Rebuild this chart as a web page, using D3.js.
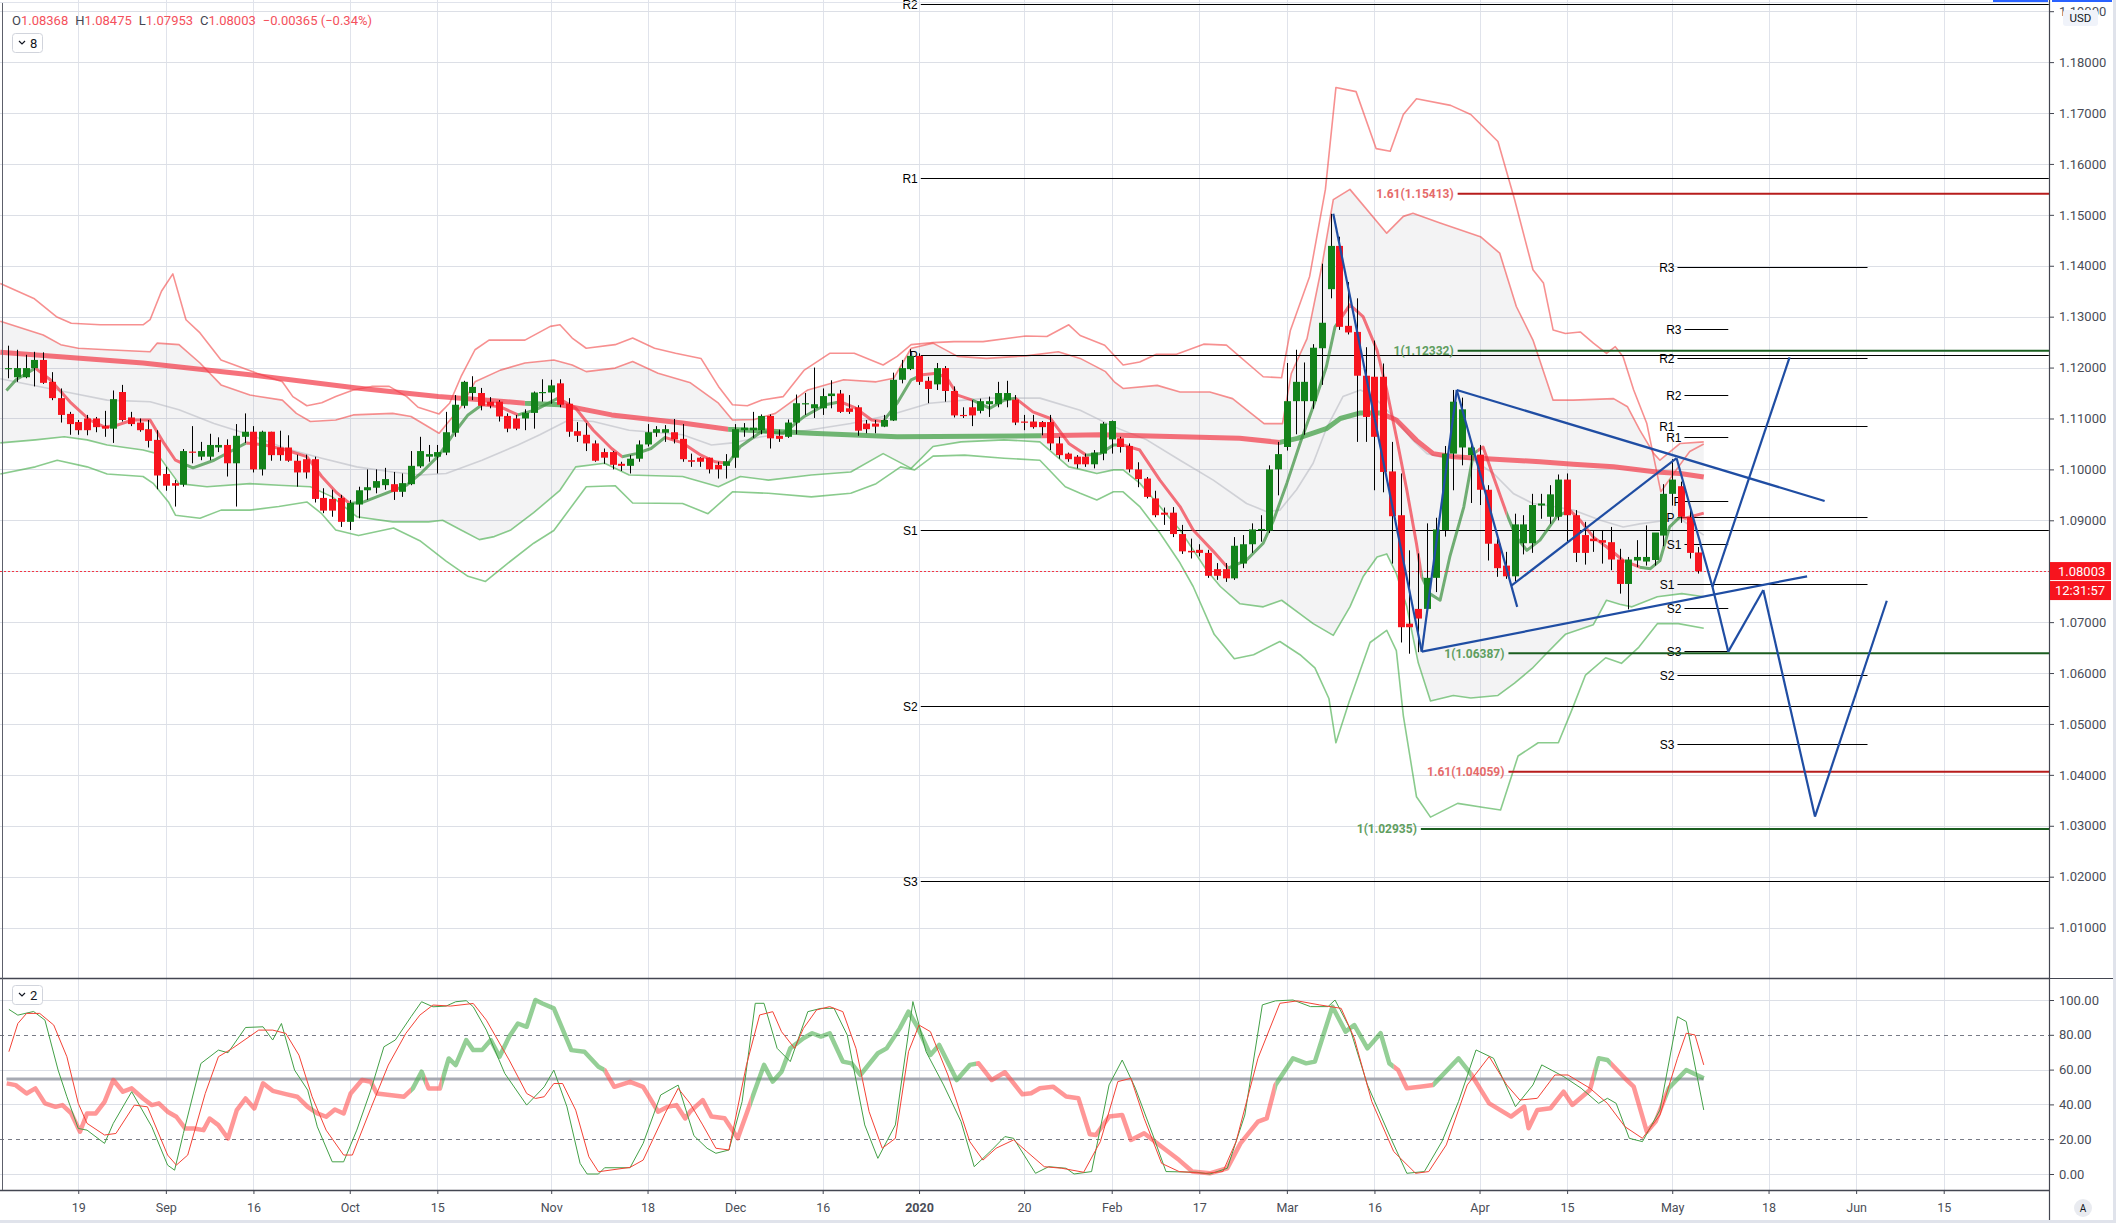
<!DOCTYPE html>
<html><head><meta charset="utf-8">
<script src="https://cdn.jsdelivr.net/npm/d3@7"></script>
<style>
html,body{margin:0;padding:0;background:#fff;}
svg{display:block;font-family:Roboto,"Liberation Sans",Arial,sans-serif;}
</style></head><body>
<svg id="chart" width="2116" height="1223"></svg>
<script>
// ---------------- DATA ----------------
const startDate = "2019-08-07";
const skipDates = ["2019-12-25","2020-01-01"];
const tickDates = ["2019-08-19","2019-09-02","2019-09-16","2019-10-01","2019-10-15","2019-11-01","2019-11-18","2019-12-02","2019-12-16","2020-01-02","2020-01-20","2020-02-03","2020-02-17","2020-03-02","2020-03-16","2020-04-01","2020-04-15","2020-05-01","2020-05-18","2020-06-01","2020-06-15"];
const tickLabels = ["19","Sep","16","Oct","15","Nov","18","Dec","16","2020","20","Feb","17","Mar","16","Apr","15","May","18","Jun","15"];
const priceTicks = [1.01,1.02,1.03,1.04,1.05,1.06,1.07,1.08,1.09,1.10,1.11,1.12,1.13,1.14,1.15,1.16,1.17,1.18,1.19];
const oscTicks = [0,20,40,60,80,100];

const open = [1.1198,1.1181,1.1181,1.1199,1.1215,1.1172,1.1140,1.1109,1.1093,1.1100,1.1100,1.1085,1.1080,1.1152,1.1102,1.1092,1.1079,1.1058,1.0991,1.0973,1.0970,1.1035,1.1025,1.1025,1.1043,1.1048,1.1012,1.1064,1.1074,1.1000,1.1074,1.1043,1.1043,1.1017,1.1020,1.1020,1.0944,1.0942,1.0944,1.0897,1.0931,1.0959,1.0964,1.0969,1.0971,1.0956,1.0971,1.1006,1.1025,1.1025,1.1033,1.1072,1.1125,1.1150,1.1150,1.1133,1.1133,1.1105,1.1100,1.1100,1.1111,1.1151,1.1151,1.1169,1.1129,1.1075,1.1068,1.1051,1.1034,1.1034,1.1011,1.1007,1.1021,1.1049,1.1072,1.1072,1.1073,1.1060,1.1018,1.1023,1.1023,1.1009,1.1007,1.1023,1.1077,1.1077,1.1077,1.1105,1.1066,1.1064,1.1092,1.1128,1.1120,1.1120,1.1144,1.1149,1.1120,1.1122,1.1090,1.1090,1.1084,1.1096,1.1176,1.1197,1.1223,1.1174,1.1167,1.1199,1.1154,1.1107,1.1122,1.1115,1.1128,1.1128,1.1136,1.1137,1.1094,1.1094,1.1093,1.1093,1.1051,1.1031,1.1025,1.1025,1.1010,1.1031,1.1059,1.1061,1.1046,1.1000,1.0982,1.0943,1.0915,1.0915,1.0873,1.0840,1.0842,1.0836,1.0804,1.0804,1.0786,1.0815,1.0853,1.0882,1.0880,1.1000,1.1044,1.1134,1.1134,1.1134,1.1238,1.1354,1.1439,1.1282,1.1270,1.1184,1.1182,1.1182,1.0996,1.0910,1.0697,1.0726,1.0726,1.0787,1.0881,1.1031,1.1043,1.1028,1.1029,1.0960,1.0854,1.0811,1.0790,1.0855,1.0855,1.0929,1.0907,1.0907,1.0980,1.0910,1.0871,1.0864,1.0861,1.0857,1.0823,1.0775,1.0821,1.0819,1.0822,1.0870,1.0952,1.0967,1.0906,1.08368];
const high = [1.1243,1.1235,1.1225,1.1231,1.1230,1.1191,1.1159,1.1113,1.1097,1.1107,1.1103,1.1115,1.1155,1.1166,1.1113,1.1100,1.1097,1.1077,1.1005,1.0979,1.1040,1.1085,1.1054,1.1070,1.1063,1.1059,1.1089,1.1110,1.1085,1.1076,1.1074,1.1076,1.1067,1.1029,1.1029,1.1025,1.0963,1.0960,1.0950,1.0940,1.0966,1.1000,1.1000,1.1003,1.0995,1.0992,1.1036,1.1064,1.1048,1.1048,1.1113,1.1146,1.1174,1.1183,1.1160,1.1142,1.1136,1.1110,1.1107,1.1118,1.1153,1.1177,1.1176,1.1177,1.1140,1.1093,1.1091,1.1057,1.1041,1.1036,1.1015,1.1028,1.1057,1.1089,1.1085,1.1087,1.1099,1.1089,1.1031,1.1024,1.1023,1.1015,1.1030,1.1089,1.1091,1.1113,1.1108,1.1108,1.1078,1.1098,1.1147,1.1150,1.1200,1.1159,1.1175,1.1156,1.1146,1.1126,1.1097,1.1097,1.1107,1.1190,1.1215,1.1236,1.1228,1.1182,1.1209,1.1203,1.1163,1.1122,1.1136,1.1139,1.1143,1.1172,1.1174,1.1146,1.1107,1.1107,1.1095,1.1107,1.1064,1.1033,1.1028,1.1031,1.1038,1.1093,1.1096,1.1064,1.1051,1.1014,1.0985,1.0958,1.0925,1.0926,1.0891,1.0864,1.0853,1.0842,1.0816,1.0816,1.0867,1.0871,1.0894,1.0910,1.1008,1.1054,1.1209,1.1235,1.1210,1.1246,1.1404,1.1502,1.1457,1.1368,1.1336,1.1240,1.1253,1.1208,1.1054,1.0992,1.0841,1.0835,1.0894,1.0905,1.1046,1.1156,1.1141,1.1054,1.1048,1.0969,1.0864,1.0838,1.0913,1.0910,1.0952,1.0952,1.0969,1.0990,1.0992,1.0920,1.0897,1.0880,1.0880,1.0887,1.0844,1.0828,1.0861,1.0890,1.0874,1.0971,1.1020,1.0976,1.0927,1.08475];
const low = [1.1179,1.1172,1.1179,1.1163,1.1168,1.1136,1.1092,1.1068,1.1068,1.1067,1.1073,1.1064,1.1052,1.1094,1.1085,1.1074,1.1043,1.0961,1.0958,1.0927,1.0966,1.1012,1.1018,1.1018,1.1034,1.0986,1.0927,1.1052,1.0994,1.0988,1.1017,1.1017,1.1015,1.0966,1.0982,1.0935,1.0914,1.0907,1.0887,1.0881,1.0904,1.0940,1.0953,1.0960,1.0940,1.0946,1.0969,1.1003,1.1015,1.0992,1.1028,1.1064,1.1120,1.1136,1.1116,1.1120,1.1094,1.1073,1.1077,1.1077,1.1080,1.1133,1.1129,1.1122,1.1064,1.1054,1.1036,1.1015,1.1011,1.1000,1.0997,1.0992,1.1015,1.1045,1.1064,1.1054,1.1051,1.1015,1.1005,1.1005,1.0992,1.0982,1.0982,1.1003,1.1064,1.1062,1.1069,1.1041,1.1054,1.1062,1.1069,1.1107,1.1101,1.1107,1.1120,1.1111,1.1109,1.1066,1.1071,1.1071,1.1083,1.1095,1.1169,1.1195,1.1166,1.1130,1.1156,1.1133,1.1102,1.1101,1.1085,1.1110,1.1103,1.1122,1.1122,1.1087,1.1077,1.1080,1.1067,1.1038,1.1021,1.1015,1.1002,1.1005,1.1002,1.1018,1.1031,1.1033,1.0994,1.0965,1.0943,1.0906,1.0891,1.0867,1.0834,1.0825,1.0829,1.0787,1.0783,1.0779,1.0783,1.0806,1.0836,1.0858,1.0875,1.0949,1.1037,1.1069,1.1068,1.1119,1.1166,1.1336,1.1274,1.1265,1.1054,1.1054,1.0959,1.0955,1.0815,1.0660,1.0638,1.0641,1.0720,1.0759,1.0868,1.0959,1.1008,1.0934,1.0930,1.0821,1.0789,1.0785,1.0780,1.0833,1.0836,1.0903,1.0893,1.0900,1.0857,1.0818,1.0813,1.0838,1.0815,1.0802,1.0756,1.0725,1.0808,1.0811,1.0811,1.0849,1.0929,1.0895,1.0825,1.07953];
const close = [1.1199,1.1199,1.1199,1.1215,1.1170,1.1140,1.1107,1.1089,1.1077,1.1077,1.1083,1.1080,1.1138,1.1097,1.1089,1.1077,1.1056,1.0988,1.0968,1.0968,1.1036,1.1034,1.1036,1.1048,1.1048,1.1012,1.1066,1.1074,1.1000,1.1074,1.1028,1.1028,1.1017,1.0994,1.0994,1.0942,1.0919,1.0919,1.0897,1.0934,1.0959,1.0965,1.0977,1.0981,1.0956,1.0973,1.1007,1.1036,1.1030,1.1034,1.1073,1.1127,1.1172,1.1162,1.1125,1.1125,1.1104,1.1080,1.1080,1.1111,1.1151,1.1152,1.1165,1.1127,1.1074,1.1066,1.1051,1.1017,1.1023,1.1009,1.1007,1.1021,1.1049,1.1073,1.1079,1.1079,1.1059,1.1020,1.1015,1.1015,1.1000,1.1000,1.1016,1.1079,1.1082,1.1082,1.1105,1.1061,1.1060,1.1092,1.1130,1.1130,1.1128,1.1144,1.1149,1.1113,1.1113,1.1076,1.1079,1.1084,1.1097,1.1176,1.1199,1.1223,1.1172,1.1158,1.1199,1.1154,1.1106,1.1106,1.1106,1.1134,1.1134,1.1150,1.1150,1.1092,1.1092,1.1083,1.1083,1.1051,1.1028,1.1020,1.1010,1.1010,1.1033,1.1090,1.1095,1.1044,1.1000,1.0981,1.0946,1.0910,1.0911,1.0873,1.0839,1.0837,1.0836,1.0791,1.0791,1.0786,1.0850,1.0853,1.0882,1.0883,1.1000,1.1030,1.1134,1.1172,1.1172,1.1239,1.1288,1.1439,1.1280,1.1269,1.1184,1.1103,1.1064,1.0995,1.0908,1.0690,1.0690,1.0707,1.0787,1.0882,1.1031,1.1133,1.1118,1.1043,1.0960,1.0854,1.0806,1.0790,1.0892,1.0892,1.0930,1.0933,1.0951,1.0980,1.0910,1.0836,1.0836,1.0859,1.0856,1.0823,1.0775,1.0823,1.0828,1.0828,1.0876,1.0952,1.0980,1.0907,1.0836,1.08003];

// indicator vertices: [bar, value]
const bandUpperOuter = [[-0.9,1.1365],[3,1.1335],[5.5,1.1300],[7.2,1.1287],[10.5,1.1284],[15.4,1.1284],[16.2,1.1294],[17.5,1.1350],[18.8,1.1384],[20.3,1.1294],[21.9,1.1268],[24.3,1.1215],[28.4,1.1189],[31.3,1.1172],[32.5,1.1143],[34.1,1.1125],[35.8,1.1131],[37.4,1.1143],[39.4,1.1156],[41.5,1.1163],[43.5,1.1163],[45.5,1.1143],[46.8,1.1122],[49.2,1.1109],[50.4,1.1130],[51.7,1.1182],[53.3,1.1235],[54.9,1.1254],[59,1.1254],[61.9,1.1281],[63,1.1284],[64.4,1.1258],[66,1.1238],[69.3,1.1245],[71.3,1.1258],[73.8,1.1238],[76.2,1.1228],[79.1,1.1218],[81.1,1.1163],[82.7,1.1127],[84.4,1.1125],[86,1.1136],[88.5,1.1143],[90.9,1.1195],[93.8,1.1228],[96.6,1.1228],[99.9,1.1205],[101.5,1.1222],[103.1,1.1245],[105.6,1.1249],[108,1.1251],[111.3,1.1251],[116.2,1.1262],[118.6,1.1261],[121.1,1.1284],[122.4,1.1263],[125.2,1.1244],[127.3,1.1205],[129.2,1.1211],[131.1,1.1226],[133.4,1.1226],[136.5,1.1246],[139.1,1.1244],[143.3,1.1182],[145.4,1.1180],[146.4,1.1273],[148.6,1.1379],[150.4,1.1550],[151.6,1.1750],[153.9,1.1742],[156.2,1.1630],[157.8,1.1625],[159.3,1.1697],[160.8,1.1728],[164.7,1.1715],[167,1.1697],[170.1,1.1644],[172,1.1530],[174.1,1.1392],[175.3,1.1366],[176.4,1.1274],[177.8,1.1267],[179.5,1.1270],[181,1.1248],[182.5,1.1228],[183.5,1.1241],[184.4,1.1221],[185.6,1.1156],[187.1,1.1090],[188.7,1.0956],[190.5,1.1000],[192,1.1035],[193.6,1.1050]];
const bandUpperInner = [[-0.9,1.1291],[4,1.1264],[6,1.1245],[8,1.1238],[11.3,1.1235],[16.2,1.1231],[17,1.1248],[19.5,1.1245],[21.9,1.1209],[24.3,1.1166],[27.6,1.1146],[31.3,1.1136],[32.9,1.1110],[34.5,1.1094],[37.4,1.1097],[39.4,1.1107],[43.9,1.1110],[46,1.1104],[49.2,1.1071],[51.7,1.1123],[53.3,1.1172],[56.2,1.1195],[59,1.1209],[62.3,1.1215],[64.4,1.1205],[66,1.1192],[69.3,1.1199],[71.3,1.1212],[74.2,1.1189],[77.9,1.1170],[81.1,1.1130],[82.7,1.1097],[85.2,1.1098],[87.6,1.1110],[91.3,1.1156],[95.4,1.1176],[99.1,1.1172],[101.1,1.1179],[103.1,1.1238],[105.6,1.1248],[108.4,1.1222],[111.7,1.1218],[116.2,1.1223],[119.9,1.1231],[122.4,1.1218],[125.3,1.1192],[126.3,1.1172],[127.3,1.1159],[131.2,1.1165],[133.8,1.1152],[137.2,1.1152],[139.8,1.1139],[143.4,1.1090],[145.5,1.1090],[146.5,1.1188],[148.3,1.1257],[150,1.1400],[151.3,1.1530],[153.2,1.1550],[157.4,1.1464],[159.3,1.1497],[160.4,1.1503],[163.5,1.1484],[168.1,1.1457],[170.3,1.1425],[172.2,1.1320],[174.1,1.1254],[176.4,1.1136],[178.7,1.1136],[183.3,1.1139],[184.9,1.1123],[186.3,1.1077],[187.9,1.1031],[188.6,1.1018],[190.9,1.1051],[193.6,1.1054]];
const bandMiddle = [[-0.9,1.1178],[7.2,1.1150],[11.3,1.1136],[16.2,1.1133],[19.5,1.1117],[23.5,1.1090],[27.6,1.1068],[31.7,1.1041],[35.8,1.1022],[39.8,1.1005],[43.9,1.0995],[47.1,1.0989],[50,1.0992],[54.1,1.1018],[58.2,1.1048],[60.7,1.1068],[64,1.1097],[66.8,1.1094],[70.9,1.1077],[77,1.1068],[80.3,1.1048],[82.7,1.1052],[86,1.1064],[91.3,1.1077],[96.2,1.1090],[100.7,1.1107],[105.2,1.1130],[111.7,1.1140],[117.8,1.1140],[122.4,1.1116],[126.2,1.1084],[130,1.1058],[133.8,1.1018],[137.6,1.0979],[141.4,1.0933],[143.7,1.0917],[145.2,1.0920],[147.1,1.0960],[149,1.1012],[150.5,1.1080],[152.4,1.1143],[154.4,1.1156],[155.9,1.1143],[158.2,1.1103],[160.4,1.1057],[162,1.1031],[163.5,1.1025],[165.4,1.1025],[167.3,1.1018],[169.6,1.0992],[171.9,1.0952],[174.1,1.0933],[176.8,1.0926],[178.7,1.0920],[181.8,1.0900],[184.4,1.0887],[186.3,1.0893],[189.4,1.0900],[190.9,1.0903],[193.6,1.0871]];
const bandLowerInner = [[-0.9,1.1052],[3.1,1.1058],[6.4,1.1064],[9,1.1058],[11.3,1.1048],[15.4,1.1038],[17,1.1031],[19.5,1.0972],[22.7,1.0966],[27.6,1.0972],[30.9,1.0969],[34.5,1.0966],[37,1.0946],[39.8,1.0907],[43.9,1.0897],[48,1.0897],[49.6,1.0900],[51.7,1.0881],[53.8,1.0862],[55.5,1.0868],[57.4,1.0881],[60,1.0915],[63,1.0959],[64.8,1.1005],[68.1,1.1012],[70.9,1.0989],[77,1.0986],[81.1,1.0966],[83.6,1.0986],[86.8,1.0979],[91.7,1.0989],[96.2,1.0995],[99.9,1.1031],[103.1,1.1002],[105.6,1.1045],[108.8,1.1054],[113.7,1.1058],[117.8,1.1054],[121.1,1.1005],[122.4,1.1000],[124.3,1.0992],[126.2,1.0999],[127.3,1.0999],[129.2,1.0973],[131.5,1.0927],[133.8,1.0881],[135.3,1.0842],[136.8,1.0803],[138.4,1.0770],[140.65,1.0736],[143.3,1.0730],[145.4,1.0743],[147.5,1.0716],[149,1.0697],[151.3,1.0674],[153.2,1.0730],[154.7,1.0789],[156.3,1.0828],[157.4,1.0834],[158.5,1.0795],[159.7,1.0730],[161,1.0620],[162.4,1.0545],[165,1.0556],[167,1.0551],[170.1,1.0556],[172,1.0580],[174,1.0609],[175.5,1.0636],[177.8,1.0676],[181,1.0695],[182.5,1.0743],[184,1.0735],[185.4,1.0730],[188.3,1.0750],[191.1,1.0756],[193.6,1.0750]];
const bandLowerOuter = [[-0.9,1.0991],[3.1,1.1005],[5.6,1.1018],[9,1.1005],[11.3,1.0991],[15.4,1.0986],[16.6,1.0972],[18.3,1.0936],[19.1,1.0910],[21.9,1.0904],[24.3,1.0920],[27.6,1.0920],[30.9,1.0927],[34.1,1.0936],[35.8,1.0913],[37.4,1.0881],[40,1.0870],[44,1.0885],[47,1.0860],[50,1.0820],[52.5,1.0790],[54.5,1.0780],[57,1.0815],[60,1.0855],[62.3,1.0880],[66,1.0966],[69.3,1.0968],[71.3,1.0934],[77,1.0933],[79.9,1.0913],[82.7,1.0956],[86.8,1.0953],[91.7,1.0946],[96.2,1.0953],[99.1,1.0972],[101.9,1.1005],[103.5,1.0999],[105.6,1.1026],[109.2,1.1028],[113.7,1.1022],[117.8,1.1018],[120.7,1.0966],[122.4,1.0953],[124.3,1.0940],[126.2,1.0956],[127.3,1.0956],[129.2,1.0927],[131.5,1.0875],[133.8,1.0816],[135.3,1.0770],[137.7,1.0676],[140,1.0628],[142.2,1.0636],[145.2,1.0662],[147.5,1.0636],[149.2,1.0610],[150.8,1.0550],[151.6,1.0463],[153.1,1.0543],[155.5,1.0660],[157.4,1.0684],[158.5,1.0644],[159.3,1.0516],[160.8,1.0357],[162.4,1.0317],[165.5,1.0344],[168.5,1.0336],[170.4,1.0331],[172.4,1.0437],[174.7,1.0463],[177,1.0463],[178.6,1.0530],[180.1,1.0596],[182.4,1.0630],[184.2,1.0619],[186.2,1.0651],[188.3,1.0697],[190.7,1.0697],[193.6,1.0688]];
const slowMA = [[-0.9,1.1230],[15.4,1.1209],[27.6,1.1186],[39.8,1.1160],[49.1,1.1143],[56.2,1.1134],[59,1.1130],[63,1.1127],[68.9,1.1107],[77,1.1091],[82.2,1.1079],[91.7,1.1071],[101.5,1.1064],[118,1.1066],[124.7,1.1068],[133.8,1.1064],[140.6,1.1061],[145.2,1.1053],[147.2,1.1061],[150.5,1.1080],[152.1,1.1100],[154.4,1.1111],[156.6,1.1111],[158.5,1.1097],[160.8,1.1057],[162.7,1.1031],[165,1.1025],[168.8,1.1021],[174.9,1.1015],[178.7,1.1010],[183.3,1.1005],[188.2,1.0995],[190.9,1.0992],[193.6,1.0985]];
const slowMARuns = [[-1,59,"dn"],[59,63,"up"],[63,82.2,"dn"],[82.2,118,"up"],[118,145.2,"dn"],[145.2,156.6,"up"],[156.6,194,"dn"]];
const fastMA = [[-0.2,1.1155],[0.9,1.1176],[3.1,1.1199],[4.8,1.1176],[7.2,1.1130],[9.3,1.1097],[10.9,1.1084],[12.1,1.1085],[14.2,1.1097],[16.2,1.1097],[17.8,1.1051],[19.1,1.1018],[19.9,1.1012],[21.1,1.1003],[23.5,1.1018],[26,1.1041],[27.2,1.1052],[29.3,1.1048],[31.7,1.1038],[34.1,1.1025],[35.8,1.0986],[37.4,1.0956],[39,1.0933],[40.6,1.0936],[43.1,1.0953],[45.5,1.0969],[47.1,1.0992],[49.2,1.1028],[50.9,1.1071],[52.5,1.1107],[54.1,1.1127],[56.2,1.1123],[58.2,1.1107],[60.2,1.1117],[62.8,1.1140],[64.8,1.1120],[66.8,1.1077],[68.9,1.1041],[70.1,1.1025],[71.7,1.1031],[73.4,1.1041],[75,1.1063],[77,1.1052],[79.1,1.1028],[80.7,1.1015],[82.2,1.1012],[83.6,1.1045],[86,1.1074],[88.5,1.1071],[90.9,1.1104],[93.3,1.1127],[95,1.1133],[96.6,1.1122],[98.6,1.1097],[99.9,1.1094],[101.5,1.1130],[103.1,1.1176],[104.4,1.1186],[106,1.1189],[107.2,1.1179],[108.4,1.1146],[110.1,1.1136],[112.1,1.1120],[113.7,1.1136],[115,1.1140],[117,1.1113],[119,1.1100],[121.1,1.1051],[123.1,1.1028],[124.7,1.1031],[126.2,1.1048],[127.3,1.1048],[129.2,1.1038],[131.5,1.0979],[133.8,1.0927],[135.3,1.0881],[137.6,1.0839],[139.3,1.0806],[141.4,1.0822],[143.3,1.0855],[144.5,1.0901],[146,1.0973],[147.5,1.1051],[149,1.1123],[150.5,1.1201],[151.5,1.1280],[153.2,1.1323],[154.7,1.1300],[156.3,1.1234],[157.4,1.1156],[158.5,1.1064],[159.7,1.0959],[160.8,1.0854],[161.4,1.0789],[162.3,1.0756],[163.5,1.0743],[164.6,1.0828],[166.2,1.0926],[167.3,1.1031],[168.4,1.1044],[169.6,1.0985],[171.1,1.0913],[172.2,1.0867],[173.4,1.0841],[174.9,1.0861],[176.8,1.0907],[178.3,1.0920],[179.5,1.0900],[181,1.0867],[182.5,1.0848],[184.4,1.0821],[186.3,1.0808],[187.5,1.0805],[188.6,1.0821],[189.7,1.0887],[190.9,1.0907],[191.5,1.0904],[193.6,1.0914]];
const fastMARuns = [[-1,3.1,"up"],[3.1,19.9,"dn"],[19.9,27.2,"up"],[27.2,39,"dn"],[39,54.1,"up"],[54.1,58.2,"dn"],[58.2,62.8,"up"],[62.8,70.1,"dn"],[70.1,75,"up"],[75,82.2,"dn"],[82.2,95,"up"],[95,99.9,"dn"],[99.9,104.4,"up"],[104.4,110.1,"dn"],[110.1,115,"up"],[115,123.1,"dn"],[123.1,127.3,"up"],[127.3,139.3,"dn"],[139.3,152,"up"],[152,161.4,"dn"],[161.4,167.8,"up"],[167.8,171.1,"dn"],[171.1,178.3,"up"],[178.3,186.3,"dn"],[186.3,191,"up"],[191,194,"dn"]];

// pivots
const yearPivotLabels = ["R2","R1","P","S1","S2","S3"];
const yearPivotValues = [1.1914,1.1572,1.1224,1.0880,1.0535,1.0191];
const yearPivotSpan = [104.2, 233];
const monthPivotLabels = ["R3","R2","R1","P","S1","S2","S3"];
const monthPivotValues = [1.1397,1.1218,1.1085,1.0906,1.0774,1.0596,1.0461];
const monthPivotSpan = [190.6, 212.3];
const weekPivotLabels = ["R3","R2","R1","P","S1","S2","S3"];
const weekPivotValues = [1.1275,1.1147,1.1063,1.0938,1.0853,1.0727,1.0643];
const weekPivotSpan = [191.4, 196.4];

// fib projections
const fibLabels = ["1.61(1.15413)","1(1.12332)","1(1.06387)","1.61(1.04059)","1(1.02935)"];
const fibValues = [1.15413,1.12332,1.06387,1.04059,1.02935];
const fibStart = [165.5,165.5,171.3,171.3,161.3];
const fibKind = ["ext","base","base","ext","base"];

// hand drawn pattern (bar, price)
const patternLines = [
 [[151.3,1.1502],[161.4,1.0642]],
 [[161.4,1.0642],[165.4,1.1156]],
 [[165.4,1.1156],[172.3,1.0730]],
 [[165.4,1.1156],[207.4,1.0938]],
 [[161.4,1.0642],[205.4,1.0790]],
 [[171.6,1.0771],[190.5,1.1022]],
 [[190.5,1.1022],[194.6,1.0769]],
 [[194.6,1.0769],[203.4,1.1220]],
 [[194.6,1.0769],[196.4,1.0642]],
 [[196.4,1.0642],[200.4,1.0763]],
 [[200.4,1.0763],[206.3,1.0318]],
 [[206.3,1.0318],[214.5,1.0742]]
];

// oscillator
const oscMidLevel = 54.6;
const oscThick = [[-0.17,52.1],[0.85,51.1],[2.1,46.3],[3.1,49.2],[4.2,40.6],[5.4,38.6],[6.2,39.6],[7.2,34.8],[8.2,24.3],[9,34.8],[10,34.8],[11,41.5],[12,54],[13.1,47.3],[14.1,49.2],[15.4,43.4],[16.4,39.6],[17.2,40.6],[18.2,35.8],[19.2,32.9],[20.2,26.2],[21.2,26.2],[22.3,25.2],[23,31.9],[24,28.1],[25.1,20.4],[26.1,36.7],[27.1,43.4],[28.1,37.7],[29.1,52.1],[30.2,47.8],[31.7,45.9],[33,44.4],[34.2,38.6],[35.3,34.8],[36.3,32.9],[37.3,37.1],[38.3,34.8],[39.1,46.3],[40.4,54],[41.4,53],[42.1,46.3],[45.2,44.4],[46.2,49.2],[47.2,58.8],[48,49.2],[49.3,49.2],[50.3,66.4],[51.1,62.6],[52.3,77],[53.1,71.2],[54.1,71.2],[55.1,77],[56.1,67.4],[57.2,78.9],[58.2,86.5],[59.2,84.6],[60.2,100],[61,98],[62.3,95.2],[64.3,71.2],[65.8,70.3],[67.4,61.6],[68.1,59.7],[69.2,50.1],[71,53],[72.5,50.1],[74.2,35.8],[75.3,38.6],[76.3,39.6],[77.3,31.9],[77.85,35.8],[79.3,42.5],[80.3,33],[81.8,32],[83.3,20.5],[84.8,41.6],[86.3,62.7],[87.3,53.1],[88.3,58.8],[89.3,72.2],[90.8,78],[91.8,80.9],[92.8,79],[93.8,80.9],[95.3,64.6],[96.3,63.6],[97.3,56.9],[99.3,69.4],[100.3,72.2],[101.8,83.7],[102.8,93.3],[103.8,84.7],[105.3,68.4],[106.3,74.2],[108.3,54],[109.8,62.7],[110.8,63.6],[112.3,54],[113.8,58.5],[115.8,45.8],[116.8,46.4],[117.8,49.3],[119.3,50.2],[120.8,44.5],[122.2,43.5],[123.5,22.8],[124.2,22.4],[125.7,33],[127.2,33.9],[128.2,19.6],[129.7,23.4],[131.7,15.7],[133.7,8],[135.2,1.4],[137.2,0.4],[139.2,3.3],[140.7,17.6],[142.7,30.1],[143.7,32],[144.7,51.2],[146.7,66.5],[148.2,63.6],[149.2,64.6],[151.2,96.2],[152.7,81.8],[153.7,85.6],[155.2,72.2],[156.7,80.9],[157.7,63.6],[158.7,59.8],[159.7,49.3],[161.2,50.2],[162.7,51.2],[165.6,66.5],[167.1,56.9],[169.1,40.6],[171.6,33],[173.1,38.7],[173.6,26.3],[174.6,36.8],[176.1,37.8],[177.6,47.3],[178.6,39.7],[180.6,48.3],[181.6,66.5],[182.6,65.5],[184.6,55],[185.6,50.2],[187.1,24.3],[188.1,30.1],[189.6,49.3],[191.6,59.8],[193.6,55]];
const oscThickRuns = [[-1,46,"dn"],[46,47.6,"up"],[47.6,49.5,"dn"],[49.5,68.1,"up"],[68.1,84.8,"dn"],[84.8,110.5,"up"],[110.5,144.7,"dn"],[144.7,158.2,"up"],[158.2,162.7,"dn"],[162.7,167.1,"up"],[167.1,181.1,"dn"],[181.1,183,"up"],[183,189.3,"dn"],[189.3,194,"up"]];
const oscFast = [[0.08,94.6],[1.1,91.3],[2.9,93.4],[4.2,88.4],[5.7,59.7],[6.7,44.4],[8,26.2],[9,25.2],[11,17.6],[12,29.1],[14.1,47.3],[16.4,27.1],[18.2,5.1],[19,2.2],[20,23.3],[22,63.5],[24,71.2],[25.1,69.7],[27.1,84.2],[29.1,84.6],[30.2,77],[31.2,86.5],[32.7,59.7],[34.2,48.2],[35.3,27.1],[37,7],[38.3,7],[39.8,25.2],[41.4,48.2],[42.9,73.1],[44.2,77],[46,90.4],[47.2,99],[48.5,96.1],[50,96.5],[51.1,99],[52.3,99.6],[53.1,96.1],[54.6,82.7],[56.7,57.8],[59.2,39.6],[61.2,50.1],[62.3,59.7],[63.8,38.6],[65.3,6.1],[66.1,0],[67.4,0],[68.1,3.6],[71,3.6],[72.5,17.6],[74.5,45.4],[76.5,51.1],[78.3,22],[79.8,14.8],[80.8,11.9],[82.3,13.8],[83.8,41.6],[85.3,98.1],[86.3,98.1],[87.8,72.2],[89.3,64.6],[91.3,93.3],[92.8,95.2],[94.3,95.2],[95.8,79.9],[97.8,28.2],[99.3,9],[101.3,28.2],[103.3,99.1],[104.8,70.3],[106.8,51.2],[108.8,30.1],[110.3,4.2],[112.3,13.8],[113.8,21.5],[114.8,20.5],[117.3,0.4],[118.8,4.2],[120.8,3.3],[121.7,0],[123.7,1.4],[125.7,51.2],[127.2,65.5],[128.7,49.3],[130.7,22.4],[132.2,1.4],[135.7,1],[137.2,0],[139.2,3.3],[141.2,33.9],[143.2,97.2],[144.7,99.5],[146.7,100],[148.7,96.2],[150.7,96.2],[151.5,100],[153.2,83.7],[155.2,51.2],[157.7,22.4],[159.7,0.4],[161.7,1.4],[163.7,18.6],[165.6,41.6],[167.6,71.3],[169.6,66.5],[172.1,38.7],[174.1,51.2],[175.1,62.7],[177.6,56],[179.6,49.3],[181.6,40.6],[182.6,43.5],[183.6,40.6],[185.1,20.5],[186.6,18.6],[188.6,36.8],[190.6,90.4],[191.6,87.6],[193.6,36.8]];
const oscSlow = [[0.08,70.3],[1.1,86.5],[2.1,92.3],[3.6,92.3],[5.2,85.6],[6.7,67.4],[8,40.6],[9,29.1],[11,22.4],[12.3,23.3],[14.4,39.6],[15.9,38.6],[18.2,10.9],[19.2,5.1],[20.5,10.9],[22.5,46.3],[24,67.4],[25.6,72.2],[28.6,82.7],[30.2,82.7],[31.7,80.8],[33.2,68.3],[34.7,44.4],[36.3,25.2],[38.3,10.9],[39.3,10.9],[41.4,37.7],[43.4,62.6],[45.4,80.8],[47,91.3],[48.5,97.1],[50.5,96.5],[53.1,98],[54.6,88.4],[57.2,65.5],[59.2,46.3],[60.2,43.4],[61.2,44.4],[62.3,52],[63.3,52],[64.8,36.7],[66.3,9.9],[67.4,1.3],[71,3.8],[72.5,8],[75,34.8],[76.5,49.2],[77.85,40.6],[79.3,28.2],[80.8,14.8],[82.3,13.8],[84.3,62.7],[85.8,91.4],[87.3,93.3],[88.3,81.8],[89.8,72.2],[90.8,83.7],[92.3,94.3],[93.8,96.2],[95.3,93.3],[96.8,72.2],[98.3,35.8],[99.8,14.8],[101.3,20.5],[102.8,70.3],[104,85.6],[105.3,81.8],[107.3,56.9],[109.8,18.6],[111.3,8],[112.8,14.8],[114.8,19.6],[116.3,12.9],[118.3,4.2],[120.3,3.3],[122.8,1],[124.7,18.6],[126.7,53.1],[128.2,55],[129.7,32],[131.7,6.1],[133.7,1.4],[136.7,0.4],[138.7,1.4],[140.2,18.6],[142.7,66.5],[145.2,98.1],[147.2,99.5],[149.7,97.2],[152.2,95.2],[153.7,78],[155.7,41.6],[158.2,12.9],[160.7,0.4],[162.2,1.4],[164.2,16.7],[166.6,51.2],[169.1,67.5],[171.1,51.2],[172.6,42.5],[174.6,43.5],[176.6,56.9],[178.1,56.9],[180.6,49.3],[182.6,40.6],[184.6,27.2],[186.6,20.5],[188.6,33.9],[190.6,66.5],[191.6,80.9],[192.6,79.9],[193.6,62.7]];

const ohlcLabels = ["O","H","L","C"];
const ohlcValues = ["1.08368","1.08475","1.07953","1.08003"];
const changeText = "\u22120.00365 (\u22120.34%)";
const lastPrice = 1.08003;
const countdown = "12:31:57";

// ---------------- LAYOUT ----------------
const W = 2116, H = 1223;
const plotRight = 2049, mainBottom = 978, oscBottom = 1190;
const barStep = 8.758;
const x = d3.scaleLinear().domain([0, 233]).range([8.2, 8.2 + 233 * barStep]);
const y = d3.scaleLinear().domain([1.0, 1.1922]).range([978.5, 0]);
const yo = d3.scaleLinear().domain([0, 100]).range([1174, 1000]);

function tradingDays(n) {
  const out = []; const d = new Date(startDate + "T00:00:00Z");
  while (out.length < n) {
    const s = d.toISOString().slice(0, 10); const wd = d.getUTCDay();
    if (wd !== 0 && wd !== 6 && !skipDates.includes(s)) out.push(s);
    d.setUTCDate(d.getUTCDate() + 1);
  }
  return out;
}
const days = tradingDays(260);
const dayIndex = new Map(days.map((d, i) => [d, i]));
const tickIdx = tickDates.map(d => dayIndex.get(d));

const svg = d3.select("#chart");
const defs = svg.append("defs");
defs.append("clipPath").attr("id", "clipMain").append("rect").attr("x", 0).attr("y", 0).attr("width", plotRight).attr("height", mainBottom);
defs.append("clipPath").attr("id", "clipOsc").append("rect").attr("x", 0).attr("y", mainBottom).attr("width", plotRight).attr("height", oscBottom - mainBottom);

svg.append("rect").attr("width", W).attr("height", H).attr("fill", "#fff");

// grid
const grid = svg.append("g");
tickIdx.forEach(t => grid.append("line").attr("x1", Math.round(x(t)) + 0.5).attr("x2", Math.round(x(t)) + 0.5)
  .attr("y1", 0).attr("y2", oscBottom).attr("stroke", "#e0e3eb").attr("stroke-width", 1));
priceTicks.forEach(p => grid.append("line").attr("x1", 0).attr("x2", plotRight)
  .attr("y1", Math.round(y(p)) + 0.5).attr("y2", Math.round(y(p)) + 0.5).attr("stroke", "#dcdfe6"));
[0, 40, 60, 100].forEach(v => grid.append("line").attr("x1", 0).attr("x2", plotRight)
  .attr("y1", Math.round(yo(v)) + 0.5).attr("y2", Math.round(yo(v)) + 0.5).attr("stroke", "#dcdfe6"));
[20, 80].forEach(v => grid.append("line").attr("x1", 0).attr("x2", plotRight)
  .attr("y1", Math.round(yo(v)) + 0.5).attr("y2", Math.round(yo(v)) + 0.5).attr("stroke", "#787b86").attr("stroke-dasharray", "4,4"));

// main panel
const main = svg.append("g").attr("clip-path", "url(#clipMain)");
const lineP = d3.line().x(d => x(d[0])).y(d => y(d[1]));
const poly = bandUpperInner.concat(bandLowerInner.slice().reverse());
main.append("path").attr("d", lineP(poly) + "Z").attr("fill", "rgba(120,123,134,0.09)");

function band(data, color, w) {
  main.append("path").attr("d", lineP(data)).attr("fill", "none").attr("stroke", color).attr("stroke-width", w).attr("stroke-linejoin", "round");
}
band(bandMiddle, "rgba(178,181,190,0.55)", 1.6);
band(bandUpperOuter, "rgba(242,70,70,0.6)", 1.6);
band(bandUpperInner, "rgba(242,70,70,0.6)", 1.6);
band(bandLowerInner, "rgba(76,175,80,0.65)", 1.6);
band(bandLowerOuter, "rgba(76,175,80,0.65)", 1.6);

// pivots
function pivotSet(labels, values, span) {
  values.forEach((v, i) => {
    const yy = Math.round(y(v)) + 0.5;
    main.append("line").attr("x1", x(span[0])).attr("x2", x(span[1])).attr("y1", yy).attr("y2", yy).attr("stroke", "#000").attr("stroke-width", 1);
    main.append("text").attr("x", x(span[0]) - 3).attr("y", yy).attr("dy", "0.35em").attr("text-anchor", "end")
      .attr("font-family", "'Liberation Sans',Arial,sans-serif").attr("font-size", 12).attr("fill", "#000").text(labels[i]);
  });
}
pivotSet(yearPivotLabels, yearPivotValues, yearPivotSpan);
pivotSet(monthPivotLabels, monthPivotValues, monthPivotSpan);
pivotSet(weekPivotLabels, weekPivotValues, weekPivotSpan);

// fib
fibValues.forEach((v, i) => {
  const yy = y(v);
  const ext = fibKind[i] === "ext";
  main.append("line").attr("x1", x(fibStart[i])).attr("x2", plotRight).attr("y1", yy).attr("y2", yy)
    .attr("stroke", ext ? "#b71c1c" : "#1b5e20").attr("stroke-width", 2);
  main.append("text").attr("x", x(fibStart[i]) - 4).attr("y", yy).attr("dy", "0.35em").attr("text-anchor", "end")
    .attr("font-size", 12).attr("font-weight", "bold").attr("fill", ext ? "#e56b6b" : "#5f9e5f").text(fibLabels[i]);
});

// colored MA helper
let clipCount = 0;
function coloredLine(g, data, runs, xs, ys, up, dn, w) {
  const ln = d3.line().x(d => xs(d[0])).y(d => ys(d[1]));
  runs.forEach(r => {
    const id = "cr" + (clipCount++);
    defs.append("clipPath").attr("id", id).append("rect").attr("x", xs(r[0])).attr("y", 0)
      .attr("width", Math.max(0, xs(r[1]) - xs(r[0]))).attr("height", H);
    g.append("g").attr("clip-path", `url(#${id})`).append("path").attr("d", ln(data)).attr("fill", "none")
      .attr("stroke", r[2] === "up" ? up : dn).attr("stroke-width", w).attr("stroke-linejoin", "round");
  });
}
coloredLine(main, slowMA, slowMARuns, x, y, "rgba(67,160,71,0.75)", "rgba(242,54,69,0.7)", 5);
coloredLine(main, fastMA, fastMARuns, x, y, "rgba(56,142,60,0.7)", "rgba(242,54,69,0.7)", 3);

// last price line
main.append("line").attr("x1", 0).attr("x2", plotRight).attr("y1", Math.round(y(lastPrice)) + 0.5).attr("y2", Math.round(y(lastPrice)) + 0.5)
  .attr("stroke", "#f23645").attr("stroke-dasharray", "2,2");

// candles
const up = "#13821a", dn = "#f7141e";
const bw = 7;
open.forEach((o, i) => {
  const c = close[i], cx = Math.round(x(i));
  main.append("line").attr("x1", cx + 0.5).attr("x2", cx + 0.5).attr("y1", y(high[i])).attr("y2", y(low[i])).attr("stroke", "#000").attr("stroke-width", 1);
  const top = y(Math.max(o, c)), bot = y(Math.min(o, c));
  main.append("rect").attr("x", cx + 0.5 - bw / 2).attr("y", top).attr("width", bw).attr("height", Math.max(1.2, bot - top))
    .attr("fill", c >= o ? up : dn);
});

// pattern lines
patternLines.forEach(s => main.append("path").attr("d", lineP(s)).attr("stroke", "#1f4da3").attr("stroke-width", 2.2).attr("fill", "none"));

// oscillator
const osc = svg.append("g").attr("clip-path", "url(#clipOsc)");
const lineO = d3.line().x(d => x(d[0])).y(d => yo(d[1]));
osc.append("line").attr("x1", x(-0.2)).attr("x2", x(193.6)).attr("y1", yo(oscMidLevel)).attr("y2", yo(oscMidLevel))
  .attr("stroke", "#a7aab3").attr("stroke-width", 3);
coloredLine(osc, oscThick, oscThickRuns, x, yo, "rgba(76,175,80,0.6)", "rgba(255,82,82,0.6)", 4.5);
osc.append("path").attr("d", lineO(oscFast)).attr("fill", "none").attr("stroke", "#43a047").attr("stroke-width", 1);
osc.append("path").attr("d", lineO(oscSlow)).attr("fill", "none").attr("stroke", "#f44336").attr("stroke-width", 1);

// frame lines
svg.append("line").attr("x1", 0).attr("x2", plotRight).attr("y1", mainBottom + 0.5).attr("y2", mainBottom + 0.5).attr("stroke", "#434651").attr("stroke-width", 1.5);
svg.append("line").attr("x1", 0).attr("x2", W).attr("y1", mainBottom + 0.5).attr("y2", mainBottom + 0.5).attr("stroke", "#434651").attr("stroke-width", 1);
svg.append("line").attr("x1", 0).attr("x2", plotRight).attr("y1", oscBottom + 0.5).attr("y2", oscBottom + 0.5).attr("stroke", "#434651").attr("stroke-width", 1.5);
svg.append("line").attr("x1", plotRight + 0.5).attr("x2", plotRight + 0.5).attr("y1", 0).attr("y2", H).attr("stroke", "#434651").attr("stroke-width", 1.2);
svg.append("line").attr("x1", 2.5).attr("x2", 2.5).attr("y1", 3).attr("y2", oscBottom).attr("stroke", "#5d606b").attr("stroke-width", 1);
svg.append("line").attr("x1", 0).attr("x2", plotRight).attr("y1", 2.5).attr("y2", 2.5).attr("stroke", "#e0e3eb");

// price axis
const axisFont = "Roboto,'Liberation Sans',Arial,sans-serif";
const pAxis = svg.append("g").attr("transform", `translate(${plotRight},0)`)
  .call(d3.axisRight(y).tickValues(priceTicks).tickFormat(d3.format(".5f")).tickSize(5).tickPadding(5));
pAxis.select(".domain").remove();
pAxis.selectAll("line").attr("stroke", "#434651");
pAxis.selectAll("text").attr("font-size", 13).attr("fill", "#4a4d57").attr("font-family", axisFont);

const oAxis = svg.append("g").attr("transform", `translate(${plotRight},0)`)
  .call(d3.axisRight(yo).tickValues(oscTicks).tickFormat(d3.format(".2f")).tickSize(5).tickPadding(5));
oAxis.select(".domain").remove();
oAxis.selectAll("line").attr("stroke", "#434651");
oAxis.selectAll("text").attr("font-size", 13).attr("fill", "#4a4d57").attr("font-family", axisFont);

// time axis
const tAxis = svg.append("g").attr("transform", `translate(0,${oscBottom})`)
  .call(d3.axisBottom(x).tickValues(tickIdx).tickFormat((d, i) => tickLabels[i]).tickSize(4).tickPadding(9));
tAxis.select(".domain").remove();
tAxis.selectAll("line").attr("stroke", "#434651");
tAxis.selectAll("text").attr("font-size", 12.5).attr("fill", "#4a4d57").attr("font-family", axisFont)
  .attr("font-weight", (d, i) => tickLabels[i] === "2020" ? "bold" : "normal");

// last price tags
const lpY = y(lastPrice);
svg.append("rect").attr("x", plotRight + 1).attr("y", lpY - 9).attr("width", 61).attr("height", 18).attr("fill", "#f7141e");
svg.append("text").attr("x", plotRight + 9).attr("y", lpY).attr("dy", "0.36em").attr("fill", "#fff").attr("font-size", 13).attr("font-family", axisFont).text(d3.format(".5f")(lastPrice));
svg.append("rect").attr("x", plotRight + 1).attr("y", lpY + 10).attr("width", 61).attr("height", 19).attr("fill", "#f7141e");
svg.append("text").attr("x", plotRight + 6).attr("y", lpY + 19.5).attr("dy", "0.36em").attr("fill", "#fff").attr("font-size", 13).attr("font-family", axisFont).text(countdown);

// USD box
svg.append("rect").attr("x", 2063).attr("y", 10).attr("width", 35).attr("height", 16).attr("rx", 3).attr("fill", "#f0f3fa");
svg.append("text").attr("x", 2080.5).attr("y", 18).attr("dy", "0.36em").attr("text-anchor", "middle").attr("font-size", 11.5).attr("fill", "#131722").attr("font-family", axisFont).text("USD");
svg.append("rect").attr("x", 1993).attr("y", 0).attr("width", 55).attr("height", 2).attr("fill", "#2962ff");
svg.append("rect").attr("x", 2052).attr("y", 0).attr("width", 60).attr("height", 2).attr("fill", "#2962ff");

// header
const hdr = svg.append("text").attr("x", 12).attr("y", 25).attr("font-size", 13).attr("font-family", axisFont);
ohlcLabels.forEach((l, i) => {
  hdr.append("tspan").attr("fill", "#434651").attr("dx", i === 0 ? 0 : 7).text(l);
  hdr.append("tspan").attr("fill", "#f4515c").text(ohlcValues[i]);
});
hdr.append("tspan").attr("fill", "#f4515c").attr("dx", 7).text(changeText);

function legendBox(x0, y0, label) {
  svg.append("rect").attr("x", x0 + 0.5).attr("y", y0 + 0.5).attr("width", 30).attr("height", 19).attr("rx", 3).attr("fill", "#fff").attr("stroke", "#d1d4dc");
  svg.append("path").attr("d", `M${x0 + 7},${y0 + 8} l3,3 l3,-3`).attr("fill", "none").attr("stroke", "#131722").attr("stroke-width", 1.2);
  svg.append("text").attr("x", x0 + 18).attr("y", y0 + 10).attr("dy", "0.36em").attr("font-size", 13).attr("fill", "#131722").attr("font-family", axisFont).text(label);
}
legendBox(12, 33, "8");
legendBox(12, 985, "2");

// bottom-right button and borders
svg.append("circle").attr("cx", 2083).attr("cy", 1208).attr("r", 9).attr("fill", "#e9ebf0");
svg.append("text").attr("x", 2083).attr("y", 1208).attr("dy", "0.36em").attr("text-anchor", "middle").attr("font-size", 10).attr("fill", "#131722").attr("font-family", axisFont).text("A");
svg.append("rect").attr("x", 2113).attr("y", 0).attr("width", 3).attr("height", H).attr("fill", "#e0e3eb");
svg.append("rect").attr("x", 0).attr("y", 1220).attr("width", W).attr("height", 3).attr("fill", "#e0e3eb");
</script></body></html>
